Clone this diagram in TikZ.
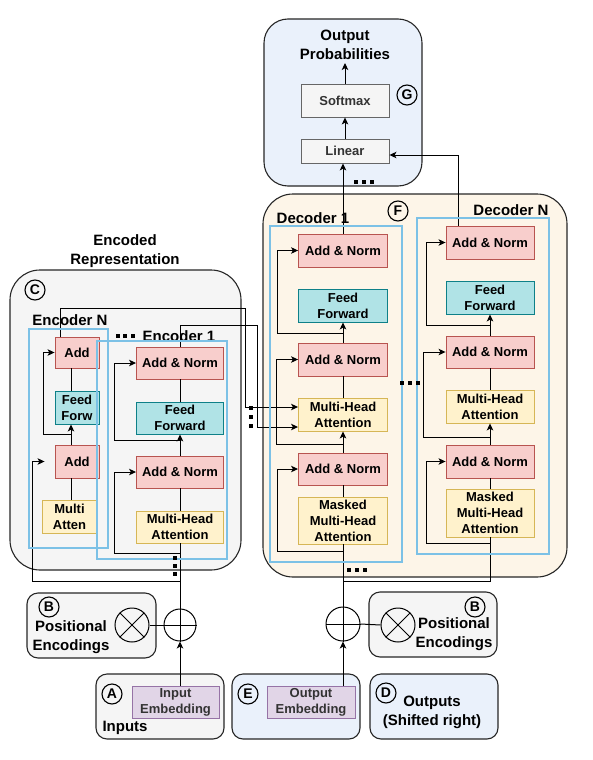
\documentclass[tikz,border=0pt]{standalone}
\usepackage{fontspec}
\setmainfont{Liberation Sans}
\usetikzlibrary{arrows.meta,calc}
\definecolor{addfill}{HTML}{F8CECC}
\definecolor{addline}{HTML}{B85450}
\definecolor{fffill}{HTML}{B0E3E6}
\definecolor{ffline}{HTML}{0E8088}
\definecolor{attfill}{HTML}{FFF2CC}
\definecolor{attline}{HTML}{D6B656}
\definecolor{embfill}{HTML}{E1D5E7}
\definecolor{embline}{HTML}{9673A6}
\definecolor{grayfill}{HTML}{F5F5F5}
\definecolor{grayline}{HTML}{666666}
\definecolor{graytext}{HTML}{333333}
\definecolor{beige}{HTML}{FDF5E8}
\definecolor{paleblue}{HTML}{EAF1FB}
\definecolor{frameblue}{HTML}{7CC1E6}
\begin{document}
\begin{tikzpicture}[x=1pt,y=-1pt,line width=1pt,
  font=\bfseries\fontsize{13}{16}\selectfont,
  arr/.style={-{Stealth[length=7pt,width=6.5pt,inset=1.8pt]}},
  boxbase/.style={inner sep=0pt,align=center,line width=0.9pt},
  addbox/.style={boxbase,draw=addline,fill=addfill},
  ffbox/.style={boxbase,draw=ffline,fill=fffill},
  attbox/.style={boxbase,draw=attline,fill=attfill},
  embbox/.style={boxbase,draw=embline,fill=embfill,text=graytext},
  graybox/.style={boxbase,draw=grayline,fill=grayfill,text=graytext},
  outerbox/.style={draw=black!85,line width=1.1pt,inner sep=0pt},
  frame/.style={draw=frameblue,line width=1.8pt},
  letter/.style={circle,draw,line width=1.1pt,minimum size=20pt,inner sep=0pt,font=\bfseries\fontsize{14}{14}\selectfont},
  title/.style={inner sep=0pt,align=center,font=\bfseries\fontsize{15}{19}\selectfont},
  opcirc/.style={circle,draw,line width=1pt,minimum size=34pt,inner sep=0pt},
  sq/.style={fill=black}
]
\useasboundingbox (0,0) rectangle (592,760);

% ---------- container boxes ----------
\node[outerbox,fill=paleblue,rounded corners=24pt,minimum width=158pt,minimum height=167pt] (outbox) at (343,102.5) {};
\node[outerbox,fill=grayfill,rounded corners=30pt,minimum width=231pt,minimum height=300pt] (encbox) at (125.5,420) {};
\node[outerbox,fill=beige,rounded corners=30pt,minimum width=304pt,minimum height=383pt] (decbox) at (415,385.5) {};
\node[outerbox,fill=grayfill,rounded corners=11pt,minimum width=129pt,minimum height=65pt] (peL) at (91.5,625.5) {};
\node[outerbox,fill=grayfill,rounded corners=11pt,minimum width=128pt,minimum height=65pt] (peR) at (433,624.5) {};
\node[outerbox,fill=grayfill,rounded corners=11pt,minimum width=128pt,minimum height=65pt] (inbox) at (160,706.5) {};
\node[outerbox,fill=paleblue,rounded corners=11pt,minimum width=128pt,minimum height=65pt] (ebox) at (296,706.5) {};
\node[outerbox,fill=paleblue,rounded corners=11pt,minimum width=128pt,minimum height=65pt] (dbox) at (434,706.5) {};

% ---------- titles ----------
\node[title] (tEncRep) at (125,251) {Encoded\\Representation};
\node[title] (tEncN) at (70,320) {Encoder N};
\node[title] (tEnc1) at (179,336) {Encoder 1};
\node[title] (tDec1) at (313,218) {Decoder 1};
\node[title] (tDecN) at (511,210) {Decoder N};
\node[title] (tOut) at (345,45) {Output\\Probabilities};
\node[title] (tPosL) at (71,637) {Positional\\Encodings};
\node[title] (tPosR) at (454,634) {Positional\\Encodings};
\node[title] (tInputs) at (125,728) {Inputs};
\node[title] (tOutputs) at (432,712) {Outputs\\(Shifted right)};

% ---------- letters ----------
\node[letter] (lC) at (35,290) {C};
\node[letter] (lF) at (398,211) {F};
\node[letter] (lG) at (407,95) {G};
\node[letter] (lBL) at (49,607) {B};
\node[letter] (lBR) at (475,607) {B};
\node[letter] (lA) at (112,694) {A};
\node[letter] (lE) at (248,694) {E};
\node[letter] (lD) at (386,693) {D};

% ---------- output head ----------
\node[graybox,minimum width=88pt,minimum height=33pt] (smax) at (345,100.5) {Softmax};
\node[graybox,minimum width=88pt,minimum height=24pt] (lin) at (345,151) {Linear};
\coordinate (outtip) at (345,63);

% ---------- encoder N ----------
\node[addbox,minimum width=44pt,minimum height=31pt] (eNadd2) at (77,352.5) {Add};
\node[ffbox,minimum width=44pt,minimum height=33pt] (eNff) at (77,407.5) {Feed\\Forw};
\node[addbox,minimum width=44pt,minimum height=33pt] (eNadd1) at (77,461.5) {Add};
\node[attbox,minimum width=55pt,minimum height=33pt] (eNatt) at (69.5,516.5) {Multi\\Atten};

% ---------- encoder 1 ----------
\node[addbox,minimum width=87pt,minimum height=32pt] (e1an2) at (180,363) {Add \& Norm};
\node[ffbox,minimum width=87pt,minimum height=32pt] (e1ff) at (180,418) {Feed\\Forward};
\node[addbox,minimum width=87pt,minimum height=32pt] (e1an1) at (180,472) {Add \& Norm};
\node[attbox,minimum width=87pt,minimum height=32pt] (e1att) at (180,527) {Multi-Head\\Attention};

% ---------- decoder 1 ----------
\node[addbox,minimum width=89pt,minimum height=33pt] (d1an3) at (343,250.5) {Add \& Norm};
\node[ffbox,minimum width=89pt,minimum height=33pt] (d1ff) at (343,305.5) {Feed\\Forward};
\node[addbox,minimum width=89pt,minimum height=33pt] (d1an2) at (343,359.5) {Add \& Norm};
\node[attbox,minimum width=89pt,minimum height=33pt] (d1mha) at (343,414.5) {Multi-Head\\Attention};
\node[addbox,minimum width=89pt,minimum height=32pt] (d1an1) at (343,469) {Add \& Norm};
\node[attbox,minimum width=89pt,minimum height=47pt] (d1mmha) at (343,520.5) {Masked\\Multi-Head\\Attention};

% ---------- decoder N ----------
\node[addbox,minimum width=88pt,minimum height=33pt] (dNan3) at (490,242.5) {Add \& Norm};
\node[ffbox,minimum width=88pt,minimum height=33pt] (dNff) at (490,297.5) {Feed\\Forward};
\node[addbox,minimum width=88pt,minimum height=32pt] (dNan2) at (490,352) {Add \& Norm};
\node[attbox,minimum width=88pt,minimum height=33pt] (dNmha) at (490,406.5) {Multi-Head\\Attention};
\node[addbox,minimum width=88pt,minimum height=33pt] (dNan1) at (490,461.5) {Add \& Norm};
\node[attbox,minimum width=88pt,minimum height=48pt] (dNmmha) at (490,513) {Masked\\Multi-Head\\Attention};

% ---------- embeddings and operators ----------
\node[embbox,minimum width=87pt,minimum height=32pt] (inemb) at (175.5,702) {Input\\Embedding};
\node[embbox,minimum width=88pt,minimum height=32pt] (outemb) at (311,702) {Output\\Embedding};
\node[opcirc] (timesL) at (132,625) {};
\node[opcirc,minimum size=32pt] (plusL) at (180,625) {};
\node[opcirc] (plusR) at (343,624) {};
\node[opcirc] (timesR) at (398,625) {};

\draw (timesL.north west) -- (timesL.south east);
\draw (timesL.north east) -- (timesL.south west);
\draw (timesR.north west) -- (timesR.south east);
\draw (timesR.north east) -- (timesR.south west);
\draw (plusL.west) -- (plusL.east);
\draw (plusL.north) -- (plusL.south);
\draw (plusR.west) -- (plusR.east);
\draw (plusR.north) -- (plusR.south);
\draw (timesL.east) -- (plusL.west);
\draw (plusR.east) -- (timesR.west);
\draw[arr] (plusL |- inemb.north) -- (plusL.south);
\draw[arr] (plusR |- outemb.north) -- (plusR.south);

% ---------- output head connectors ----------
\draw[arr] (smax.north) -- (outtip);
\draw[arr] (lin.north) -- (smax.south);

% ---------- encoder N connectors ----------
\coordinate (eNx) at (71,0);
\draw (eNatt.north -| eNx) -- (eNadd1.south -| eNx);
\draw[arr] (eNadd1.north -| eNx) -- (eNff.south -| eNx);
\draw (eNff.north -| eNx) -- (eNadd2.south -| eNx);
\draw[arr] (71,434) -- (43,434) |- (eNadd2.west);
\draw (plusL.north) -- (e1att.south);
\draw[arr,shorten >=10pt] (180,581) -- (32,581) |- (eNadd1.west);
\draw[arr] (eNadd2.north -| 60,0) -- (60,308) -- (245,308) -- (245,407) -- (d1mha.west |- 0,407);

% ---------- encoder 1 connectors ----------
\draw (e1att.north) -- (e1an1.south);
\draw[arr] (e1an1.north) -- (e1ff.south);
\draw (e1ff.north) -- (e1an2.south);
\draw[arr] (180,440) -- (114,440) |- (e1an2.west);
\draw[arr] (180,553) -- (114,553) |- (e1an1.west);
\draw[arr] (e1an2.north) -- (180,325) -- (257,325) -- (257,427) -- (d1mha.west |- 0,427);

% ---------- decoder 1 connectors ----------
\draw (plusR.north) -- (d1mmha.south);
\draw (d1mmha.north) -- (d1an1.south);
\draw[arr] (d1an1.north) -- (d1mha.south);
\draw (d1mha.north) -- (d1an2.south);
\draw[arr] (d1an2.north) -- (d1ff.south);
\draw[arr] (343,551) -- (277,551) |- (d1an1.west);
\draw[arr] (343,444) -- (276,444) |- (d1an2.west);
\draw[arr] (343,333) -- (277,333) |- (d1an3.west);
\draw[arr] (d1an3.north) -- (d1an3.north |- lin.south);

% ---------- decoder N connectors ----------
\draw (343,581) -- (490,581) -- (dNmmha.south);
\draw (dNmmha.north) -- (dNan1.south);
\draw[arr] (dNan1.north) -- (dNmha.south);
\draw (dNmha.north) -- (dNan2.south);
\draw[arr] (dNan2.north) -- (dNff.south);
\draw[arr] (490,543) -- (426,543) |- (dNan1.west);
\draw[arr] (490,437) -- (423,437) |- (dNan2.west);
\draw[arr] (490,325) -- (426,325) |- (dNan3.west);
\draw[arr] (dNan3.north -| 458,0) -- (458,155) -- (lin.east |- 0,155);

% ---------- blue frames ----------
\draw[frame] (29,329) rectangle (108,548);
\draw[frame] (97,341) rectangle (227,559);
\draw[frame] (270,226) rectangle (402,562);
\draw[frame] (417,218) rectangle (549,554);

% ---------- dots ----------
\foreach \x in {117.5,125,132.5} \fill[sq] ({\x-2},334) rectangle ({\x+2},338);
\foreach \y in {558,566,574} \fill[sq] (173,{\y-2}) rectangle (177,{\y+2});
\foreach \y in {408,417,426} \fill[sq] (249,{\y-2}) rectangle (253,{\y+2});
\foreach \x in {402,410,418} \fill[sq] ({\x-2},381) rectangle ({\x+2},385);
\foreach \x in {349,357,365} \fill[sq] ({\x-2},568) rectangle ({\x+2},572);
\foreach \x in {356,364,372} \fill[sq] ({\x-2},180) rectangle ({\x+2},184);
\end{tikzpicture}
\end{document}
